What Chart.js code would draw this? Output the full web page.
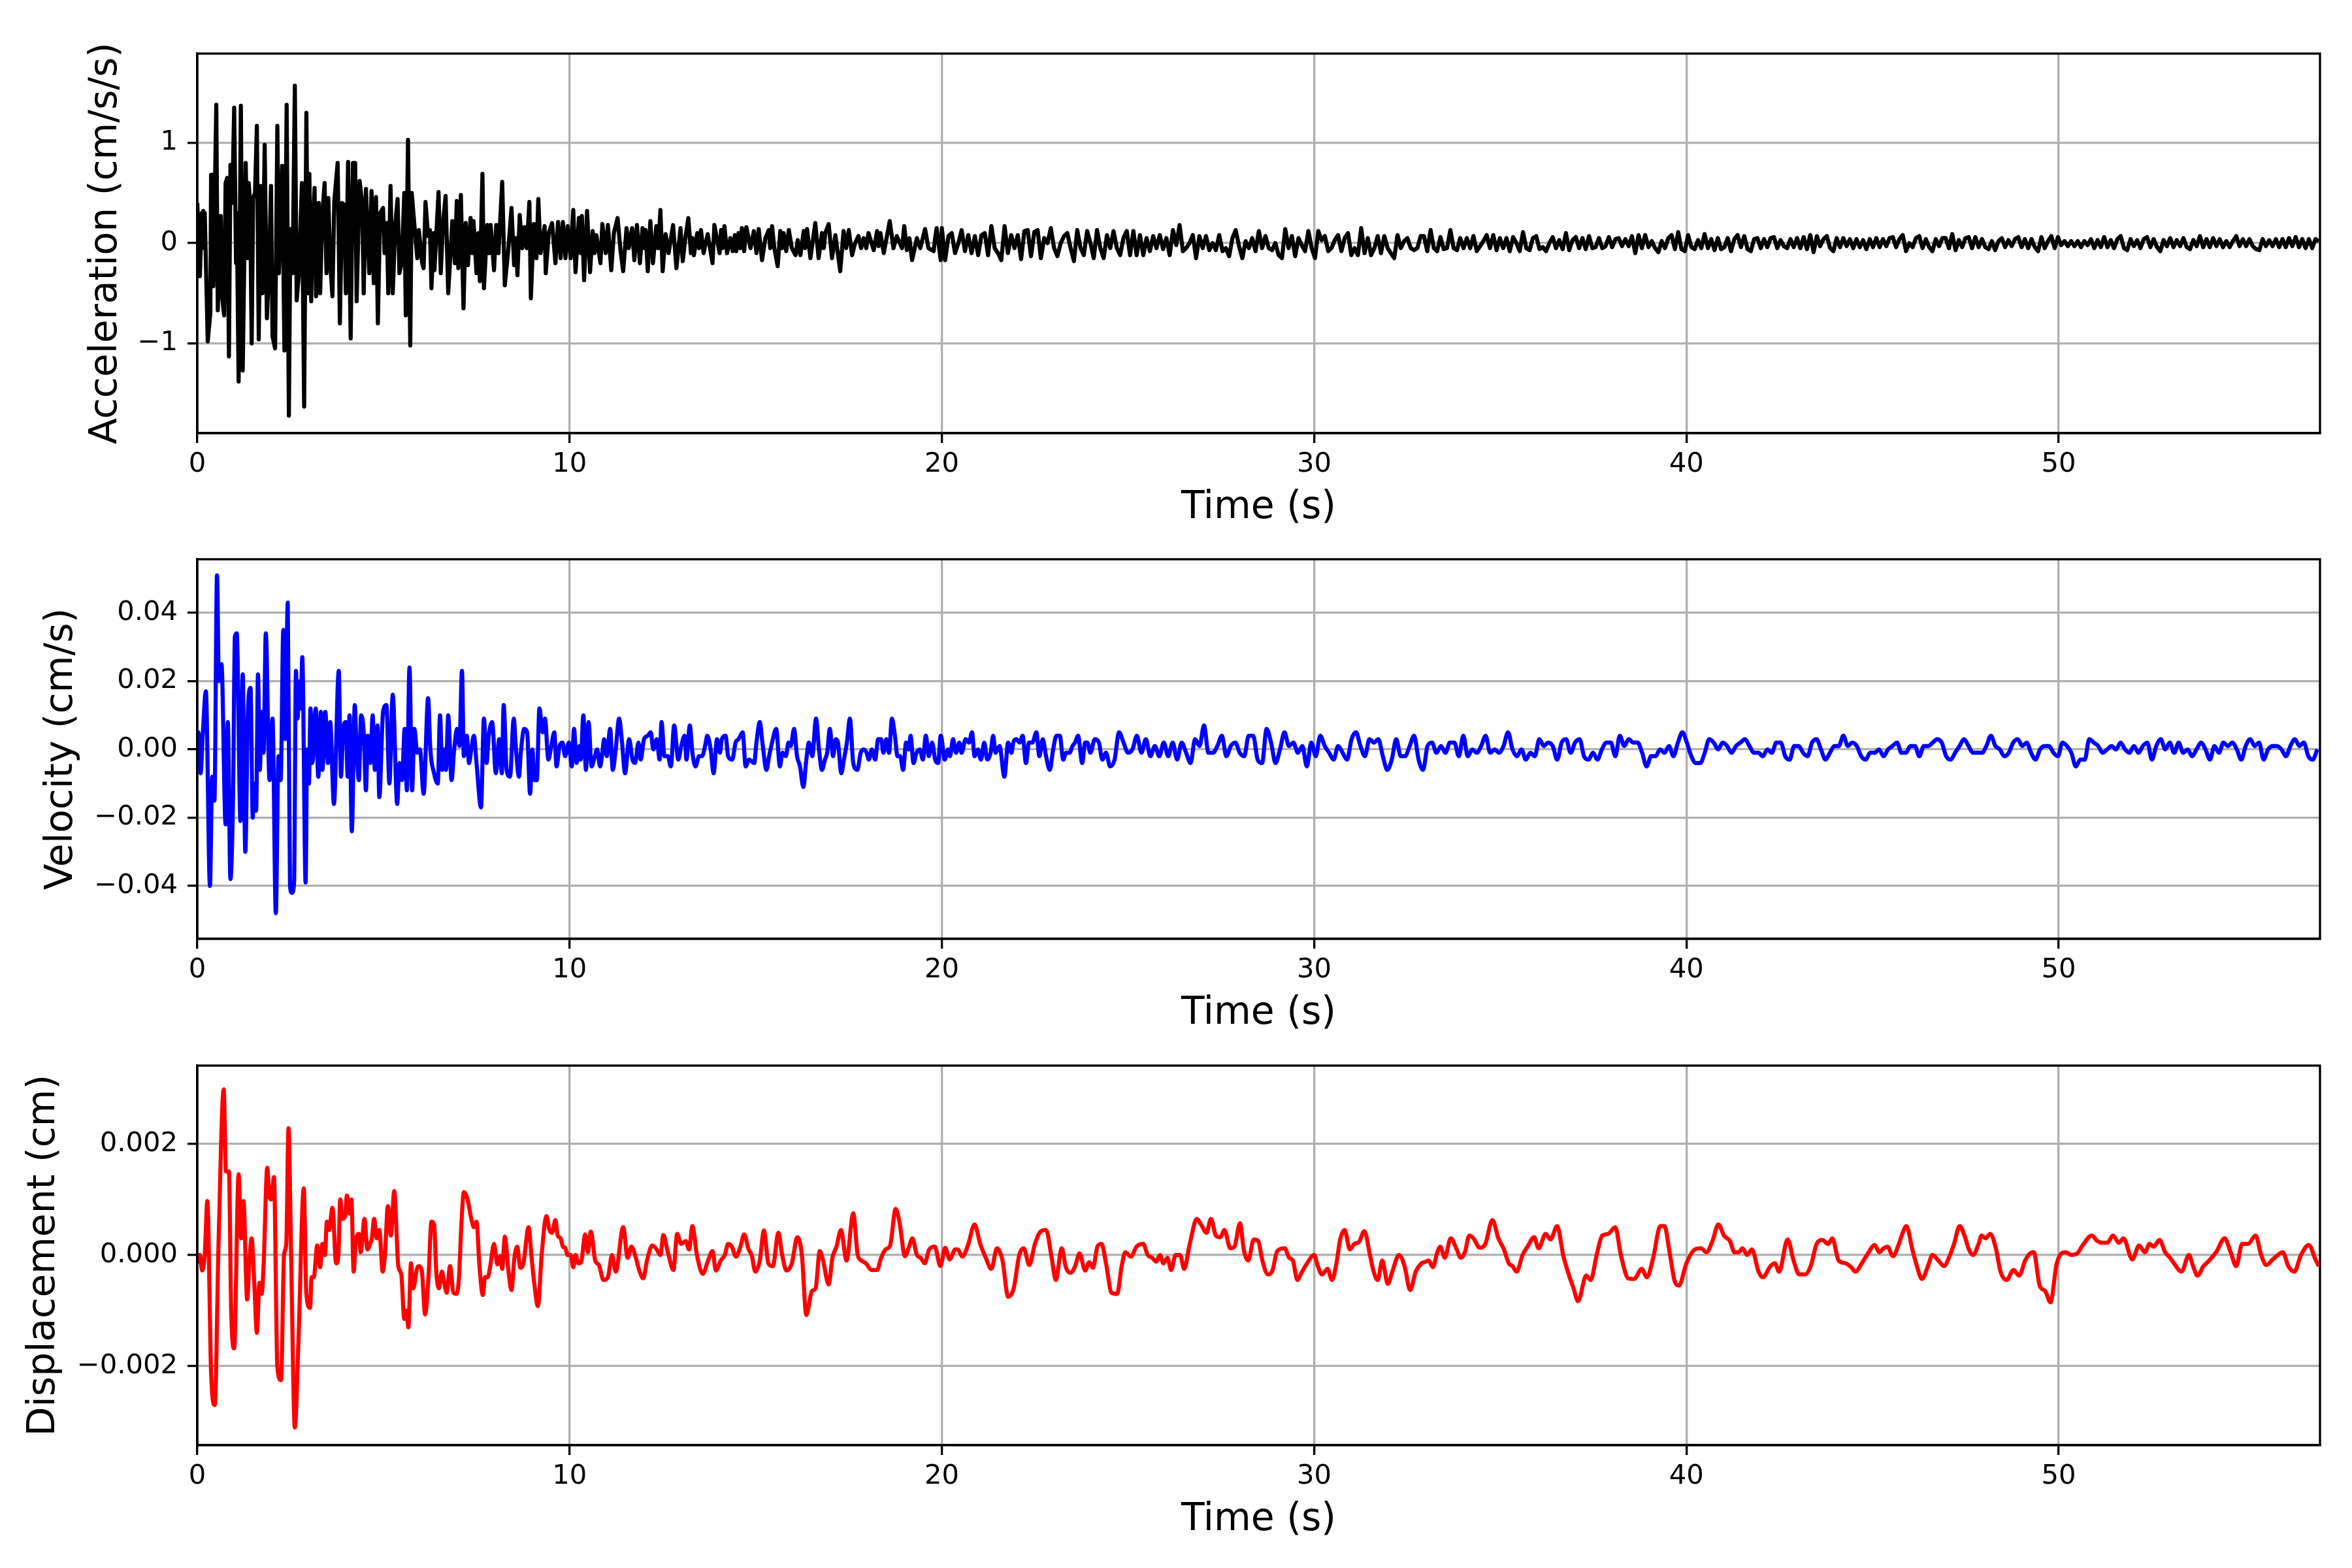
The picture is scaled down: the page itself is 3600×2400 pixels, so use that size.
<!DOCTYPE html>
<html><head><meta charset="utf-8">
<script src="https://cdn.jsdelivr.net/npm/chart.js@4.4.1/dist/chart.umd.min.js"></script>
<style>
html,body{margin:0;padding:0;background:#fff;width:3600px;height:2400px;overflow:hidden;position:relative}
canvas{position:absolute;left:0}
</style></head><body>
<canvas id="c0" width="3600" height="900" style="top:0px;width:3600px;height:900px"></canvas>
<canvas id="c1" width="3600" height="900" style="top:774px;width:3600px;height:900px"></canvas>
<canvas id="c2" width="3600" height="851" style="top:1549px;width:3600px;height:851px"></canvas>
<script>
// ---------------- tick values / labels ----------------
const xTickValues = [0, 10, 20, 30, 40, 50];
const xTickLabels = ['0', '10', '20', '30', '40', '50'];
const accTickValues = [-1, 0, 1];
const accTickLabels = ['\u22121', '0', '1'];
const velTickValues = [-0.04, -0.02, 0, 0.02, 0.04];
const velTickLabels = ['\u22120.04', '\u22120.02', '0.00', '0.02', '0.04'];
const dispTickValues = [-0.002, 0, 0.002];
const dispTickLabels = ['\u22120.002', '0.000', '0.002'];

// ---------------- acceleration (cm/s/s) ----------------
const accTime = [
0.00,0.07,0.12,0.14,0.16,0.18,0.20,0.28,0.35,0.37,
0.41,0.43,0.51,0.55,0.63,0.67,0.72,0.76,0.80,0.85,
0.89,0.94,0.99,1.04,1.06,1.11,1.17,1.22,1.30,1.35,
1.38,1.42,1.46,1.50,1.55,1.60,1.65,1.70,1.75,1.81,
1.87,1.93,1.98,2.02,2.09,2.15,2.19,2.28,2.34,2.40,
2.46,2.50,2.56,2.62,2.67,2.73,2.81,2.87,2.93,2.97,
3.01,3.06,3.09,3.15,3.19,3.26,3.30,3.36,3.42,3.47,
3.52,3.57,3.63,3.68,3.77,3.83,3.89,3.95,3.99,4.05,
4.12,4.18,4.24,4.28,4.36,4.43,4.47,4.53,4.62,4.68,
4.74,4.80,4.85,4.91,4.99,5.03,5.09,5.13,5.19,5.25,
5.32,5.38,5.43,5.49,5.56,5.60,5.66,5.72,5.76,5.85,
5.91,5.95,6.04,6.08,6.13,6.20,6.25,6.29,6.35,6.37,
6.48,6.54,6.60,6.67,6.74,
6.85,6.92,6.97,7.01,7.08,7.15,7.21,7.27,7.34,7.39,
7.42,7.50,7.55,7.59,7.66,7.70,7.79,7.84,7.88,7.97,
8.03,8.09,8.19,8.26,8.35,8.44,8.51,8.55,8.60,8.66,
8.73,8.79,8.85,8.92,8.96,9.04,9.11,9.16,9.22,9.33,
9.36,9.44,9.53,9.62,9.69,9.76,9.82,9.89,9.95,10.03,
10.10,10.16,10.25,10.30,10.33,10.39,10.47,10.55,10.62,10.67,
10.72,10.83,10.88,10.97,11.03,11.12,11.19,11.29,11.37,11.44,
11.53,11.59,11.68,11.74,11.81,11.89,11.96,12.00,12.04,12.10,
12.17,12.24,12.33,12.38,12.44,12.50,12.58,12.66,12.78,12.87,
12.98,13.04,13.11,13.19,13.26,13.30,13.34,13.43,13.48,13.53,
13.60,13.71,13.84,13.89,13.98,14.03,14.07,14.11,14.16,14.23,
14.32,14.38,14.44,14.48,14.54,14.59,14.63,14.69,14.75,14.86,
14.95,15.02,15.08,15.17,15.26,15.35,15.39,15.44,15.50,15.59,
15.66,15.71,15.75,15.82,15.89,15.97,16.07,16.13,16.20,16.29,
16.33,16.38,16.47,16.60,16.69,16.78,16.83,16.87,16.96,17.05,
17.14,17.27,17.36,17.43,17.50,17.59,17.67,17.76,17.83,17.90,
17.97,18.03,18.17,18.26,18.30,18.35,18.44,18.60,18.70,18.79,
18.93,18.99,19.06,19.13,19.20,19.33,19.42,19.55,19.64,19.78,
19.82,19.86,19.97];
const accValue = [
0.40,-0.33,0.30,0.02,0.32,-0.05,0.30,-0.98,-0.70,0.68,
0.68,-0.43,1.38,-0.67,0.27,-0.55,-0.72,0.60,0.65,-1.13,
0.78,0.40,1.35,-0.20,0.30,-1.38,1.37,-1.27,0.80,-0.15,
0.60,0.40,-1.00,0.45,0.50,1.17,-0.96,0.57,-0.50,0.98,
-0.75,-0.20,0.57,-0.93,-1.05,1.17,-0.30,0.77,-1.07,1.38,
-1.72,0.14,-0.30,1.57,-0.57,-0.30,0.60,-1.63,1.30,-0.50,
0.69,-0.58,0.05,0.55,-0.53,0.40,-0.50,0.30,0.60,-0.30,
0.45,-0.20,-0.53,0.42,0.80,-0.80,0.40,0.38,-0.50,0.81,
-0.95,0.80,0.80,-0.58,0.62,0.40,-0.50,0.54,-0.30,0.52,
-0.40,0.46,-0.80,0.30,0.35,-0.10,0.20,-0.50,0.57,-0.50,
0.20,0.44,-0.30,-0.20,0.50,-0.72,1.03,-1.02,0.50,0.10,
-0.15,0.13,-0.20,-0.25,0.41,0.07,0.13,-0.45,0.10,-0.27,
0.51,-0.30,0.20,0.47,-0.50,
0.22,-0.20,0.42,-0.25,0.48,-0.65,0.20,-0.22,0.25,-0.10,
0.22,-0.30,0.10,-0.38,0.69,-0.45,0.18,-0.10,0.18,-0.27,
0.18,-0.10,0.61,-0.42,-0.08,0.35,-0.22,0.05,-0.32,0.28,
-0.05,0.16,-0.05,0.41,-0.55,0.19,-0.15,0.44,-0.10,0.17,
-0.30,0.10,0.20,-0.20,0.21,-0.15,0.21,-0.15,0.17,-0.15,
0.33,-0.29,0.25,-0.10,0.27,-0.37,0.32,-0.29,0.12,-0.10,
0.08,-0.20,0.19,-0.10,0.18,-0.27,0.10,0.25,-0.08,-0.28,
0.15,-0.05,0.15,-0.17,0.18,-0.20,0.15,-0.05,0.13,-0.28,
0.22,-0.20,0.17,-0.05,0.33,-0.28,0.09,-0.10,0.18,-0.25,
0.15,-0.18,0.05,0.25,-0.10,0.05,-0.12,0.10,-0.05,0.13,
-0.10,0.09,-0.20,0.18,0.00,-0.10,0.13,-0.05,0.17,-0.10,
0.05,-0.08,0.08,-0.08,0.10,-0.05,0.15,-0.08,0.16,-0.05,
0.12,-0.10,0.14,-0.17,0.05,0.13,-0.05,0.17,-0.05,-0.23,
0.12,-0.05,0.10,-0.08,0.13,-0.05,-0.12,0.03,-0.12,0.12,
-0.05,0.14,-0.15,0.20,-0.15,0.10,-0.05,0.10,0.19,-0.15,
0.08,-0.28,0.12,-0.05,0.13,-0.12,0.00,0.07,-0.05,0.05,
-0.05,0.10,-0.07,0.12,-0.03,0.10,-0.10,0.22,-0.05,0.07,
-0.05,0.17,-0.07,0.05,-0.17,0.05,-0.05,0.14,-0.05,-0.08,
0.05,0.15,-0.17];
// later record, read at a regular sampling step
const accLateStart = 20.0;
const accLateStep = 0.0887;
const accLateValue = [
0.15,-0.17,0.07,0.10,-0.10,0.00,0.13,-0.08,0.08,-0.10,
0.07,-0.12,0.08,0.10,-0.12,0.17,-0.05,-0.10,-0.17,0.17,
-0.10,0.08,-0.05,0.08,-0.16,0.12,0.13,-0.13,0.11,0.13,
-0.15,0.05,0.00,0.15,-0.05,-0.13,0.00,0.07,0.10,-0.05,
-0.18,0.13,-0.05,-0.12,0.12,0.00,-0.15,0.13,-0.05,-0.15,
0.08,-0.05,0.12,-0.05,-0.12,0.05,0.12,-0.12,0.12,-0.12,
0.08,-0.12,0.05,-0.08,0.07,-0.05,0.08,-0.06,0.05,-0.12,
0.13,-0.02,0.18,-0.08,-0.05,0.00,0.08,-0.15,0.07,-0.05,
0.07,-0.07,0.00,-0.07,0.08,-0.08,-0.05,-0.13,0.05,0.13,
-0.03,-0.15,0.02,-0.05,0.05,-0.08,0.12,-0.05,0.07,-0.05,
-0.07,0.00,-0.12,-0.15,0.14,-0.05,0.07,-0.13,0.05,-0.02,
-0.08,0.12,-0.05,-0.15,0.12,0.03,0.07,-0.08,-0.05,0.03,
0.08,-0.08,0.05,0.10,-0.12,-0.05,-0.12,0.15,-0.10,0.05,
-0.12,-0.05,0.07,-0.10,0.07,-0.05,-0.10,-0.15,0.08,-0.05,
0.02,0.05,-0.05,-0.07,-0.05,0.07,0.07,-0.08,0.13,-0.05,
-0.08,0.06,-0.06,-0.05,0.13,-0.05,-0.07,0.05,-0.05,0.05,
-0.05,0.07,-0.08,-0.03,0.02,0.08,-0.05,0.08,-0.07,0.05,
-0.05,0.05,-0.08,0.06,0.00,-0.08,0.11,-0.05,-0.07,0.05,
0.07,-0.06,-0.04,-0.08,0.00,0.06,-0.05,0.03,-0.06,0.10,
-0.07,0.03,0.06,-0.05,0.05,-0.06,0.07,-0.05,-0.04,0.05,
-0.05,-0.03,0.06,-0.04,0.04,
0.05,-0.03,0.04,-0.03,0.07,-0.10,0.08,-0.05,0.08,-0.04,
0.02,-0.05,-0.09,0.02,-0.05,0.05,0.08,-0.06,0.11,-0.06,
-0.08,0.08,-0.04,-0.06,0.03,-0.05,0.09,-0.05,0.04,-0.07,
0.05,-0.06,-0.04,0.05,-0.08,0.04,0.08,-0.04,0.07,-0.06,
-0.08,0.04,0.05,-0.05,0.04,-0.04,0.05,0.06,-0.05,0.03,
-0.03,-0.05,0.04,-0.04,0.05,-0.05,0.06,-0.06,0.08,-0.09,
0.07,-0.03,0.04,0.07,-0.05,-0.08,0.05,-0.04,0.05,-0.03,
0.04,-0.05,0.04,-0.04,0.03,-0.06,0.04,-0.04,0.05,-0.04,
0.04,-0.03,0.05,0.06,-0.04,0.04,0.08,-0.08,0.00,-0.04,
0.05,0.07,-0.05,0.04,-0.04,-0.08,0.04,-0.03,0.05,0.05,
-0.05,0.09,-0.07,0.03,-0.04,0.05,0.06,-0.05,0.06,-0.04,
0.04,-0.04,-0.06,0.02,-0.07,0.02,0.05,-0.04,0.03,-0.03,
0.04,0.06,-0.04,0.04,-0.05,0.04,-0.04,-0.08,0.06,-0.05,
0.02,0.07,-0.05,0.06,-0.02,0.02,-0.03,0.02,-0.03,0.02,
-0.04,0.02,-0.02,0.04,-0.05,0.03,-0.04,0.06,-0.04,0.03,
-0.05,0.04,0.07,-0.05,-0.07,0.04,-0.03,0.03,-0.05,0.04,
0.06,-0.04,0.04,-0.04,-0.08,0.03,-0.03,0.05,-0.04,0.03,
-0.03,0.05,-0.04,-0.06,0.03,-0.03,0.07,-0.04,0.04,-0.04,
0.05,-0.03,0.04,-0.04,0.02,-0.04,0.02,0.07,-0.03,0.04,
-0.03,0.04,-0.03,-0.06,-0.07,0.04,-0.03,0.03,-0.03,0.04,
-0.04,0.04,-0.04,0.05,-0.03,0.06,-0.04,0.04,-0.05,0.04,
-0.05,0.04,0.02];

// ---------------- velocity (cm/s) ----------------
const velTime = [
0.00,0.03,0.09,0.15,0.23,0.34,0.40,0.46,0.53,0.58,
0.65,0.76,0.82,0.89,0.96,1.01,1.06,1.16,1.22,1.29,
1.36,1.43,1.49,1.52,1.58,1.63,1.68,1.73,1.78,1.84,
1.94,2.02,2.11,2.18,2.24,2.31,2.36,2.43,2.49,2.54,
2.60,2.65,2.69,2.75,2.78,2.82,2.91,2.95,3.00,3.04,
3.09,3.18,3.25,3.32,3.36,3.44,3.51,3.57,3.67,3.80,
3.86,3.92,3.99,4.04,4.09,4.15,4.23,4.28,4.34,4.40,
4.47,4.53,4.58,4.65,4.71,4.77,4.84,4.89,4.99,5.08,
5.16,5.25,5.37,5.43,5.50,5.57,5.63,5.70,5.77,5.83,
5.91,5.98,6.08,6.20,6.26,6.36,6.46,6.52,6.58,6.64,
6.68,6.74,6.83,6.90,6.98,7.04,7.11,7.16,7.24,7.30,
7.36,7.43,7.50,
7.62,7.70,7.77,7.83,7.92,8.02,8.11,8.18,8.23,8.31,
8.40,8.50,8.56,8.64,8.69,8.78,8.86,8.94,9.00,9.06,
9.12,9.19,9.28,9.34,9.43,9.51,9.59,9.65,9.73,9.81,
9.88,9.98,10.06,10.12,10.19,10.26,10.30,10.37,10.44,10.51,
10.59,10.68,10.74,10.82,10.87,10.93,11.00,11.09,11.16,11.24,
11.33,11.41,11.49,11.60,11.69,11.76,11.85,11.91,12.00,12.10,
12.18,12.25,12.34,12.42,12.47,12.55,12.64,12.72,12.81,12.92,
13.00,13.09,13.14,13.23,13.30,13.38,13.48,13.56,13.64,13.70,
13.79,13.87,13.96,14.04,14.09,14.19,14.26,14.37,14.46,14.54,
14.65,14.73,14.82,14.96,15.02,15.11,15.18,15.29,15.36,15.44,
15.55,15.65,15.72,15.81,15.88,15.94,16.03,16.11,16.19,16.28,
16.36,16.43,16.52,16.62,16.70,16.78,16.86,16.92,16.99,17.08,
17.15,17.21,17.30,17.37,17.45,17.53,17.62,17.73,17.82,17.90,
17.98,18.04,18.12,18.21,18.29,18.37,18.43,18.51,18.58,18.66,
18.74,18.81,18.88,18.96,19.04,19.11,19.16,19.24,19.32,19.41,
19.49,19.57,19.65,19.74,19.82,19.90,19.97,20.08,20.17,20.22,
20.30,20.38,20.47,20.53,20.64,20.73,20.81,20.88,20.97,21.05,
21.14,21.22,21.31,21.38,21.44,21.55,21.68,21.78,21.87,21.92,
22.00,22.09,22.17,22.26,22.34,22.43,22.54,22.62,22.71,22.80,
22.90,22.99,23.08,23.17,23.26,23.34,23.43,23.51,23.58,23.66,
23.77,23.85,23.91,23.99,24.11,24.22,24.31,24.41];
const velValue = [
0.005,0.005,-0.007,0.005,0.017,-0.040,-0.008,-0.015,0.051,0.020,
0.025,-0.022,0.008,-0.038,-0.014,0.033,0.034,-0.021,0.022,-0.030,
0.011,0.018,-0.020,-0.010,-0.018,0.022,-0.006,0.011,-0.001,0.034,
-0.009,0.009,-0.048,-0.002,-0.009,0.035,0.003,0.043,-0.040,-0.042,
-0.039,0.023,0.009,0.020,0.012,0.027,-0.039,0.000,-0.010,0.012,
-0.004,0.012,-0.008,0.011,-0.006,0.011,-0.004,0.008,-0.016,0.023,
-0.008,0.006,0.008,-0.008,0.010,-0.024,0.013,0.000,-0.009,0.010,
0.005,-0.012,0.004,-0.004,0.010,-0.006,0.007,-0.014,0.011,0.013,
-0.010,0.016,-0.016,-0.004,-0.009,0.006,-0.012,0.024,-0.012,0.006,
-0.001,0.000,-0.013,0.015,0.000,-0.007,-0.010,0.010,-0.006,0.000,
-0.006,0.010,-0.009,0.000,0.006,0.001,0.023,-0.002,0.004,-0.004,
0.000,0.004,-0.004,
-0.017,0.009,-0.004,0.004,0.008,-0.007,0.003,-0.007,0.013,-0.006,
-0.008,0.009,0.000,-0.008,-0.001,0.006,0.005,-0.013,0.000,-0.009,
-0.009,0.012,0.005,0.009,-0.003,0.001,0.005,-0.005,0.001,0.002,
-0.002,0.002,-0.005,0.006,-0.004,0.001,-0.003,0.010,-0.006,0.008,
-0.005,-0.002,0.000,-0.005,-0.002,0.003,-0.002,0.006,-0.006,0.000,
0.009,0.002,-0.007,0.003,-0.003,-0.004,0.002,-0.003,0.003,0.004,
0.005,0.000,0.003,-0.003,0.008,-0.002,-0.002,-0.005,0.007,-0.003,
0.001,0.004,-0.003,0.007,-0.001,-0.005,-0.002,-0.002,0.001,0.004,
0.000,-0.007,0.003,-0.001,0.003,0.004,-0.002,-0.003,0.002,0.003,
0.005,-0.005,-0.003,-0.004,0.002,0.008,0.002,-0.006,-0.002,0.002,
0.006,-0.005,-0.001,-0.002,0.002,0.001,0.006,-0.002,-0.005,-0.011,
-0.003,0.002,-0.002,0.009,0.000,-0.006,-0.003,-0.001,0.006,-0.002,
0.003,0.002,-0.007,-0.003,0.002,0.009,-0.004,-0.006,-0.001,0.000,
-0.001,-0.003,0.000,-0.003,0.003,0.003,-0.001,0.003,-0.001,0.009,
0.004,-0.002,-0.002,-0.006,0.002,0.000,0.004,-0.004,-0.001,0.000,
-0.003,0.004,-0.002,0.002,-0.003,-0.004,0.004,-0.003,0.000,-0.002,
0.003,-0.001,0.002,-0.001,0.003,0.002,0.005,-0.002,0.000,-0.003,
0.002,-0.003,-0.001,0.004,-0.001,0.001,-0.008,0.002,-0.001,0.002,
0.003,0.002,0.004,-0.004,0.002,0.002,0.005,-0.002,0.003,-0.002,
-0.006,0.000,0.004,0.004,-0.003,-0.001,-0.001,0.001,0.002,0.004,
-0.004,0.002,0.002,-0.001,0.003,0.002,-0.003,-0.001];
const velLateStart = 24.52;
const velLateStep = 0.1201;
const velLateValue = [
-0.005,-0.003,0.005,0.002,-0.001,0.000,0.004,-0.001,0.003,-0.002,
0.001,-0.002,0.002,-0.002,0.002,-0.003,0.002,-0.001,-0.004,0.003,
0.001,0.007,-0.001,-0.001,0.001,0.004,-0.002,0.001,0.002,-0.001,
-0.002,0.004,0.004,-0.003,-0.004,0.006,0.002,-0.004,0.000,0.005,
0.001,0.002,-0.001,0.001,-0.005,0.002,-0.002,0.004,0.001,-0.001,
-0.003,0.001,-0.001,-0.003,0.003,0.005,0.001,-0.002,0.003,0.002,
0.003,-0.002,-0.006,-0.003,0.003,-0.002,-0.002,0.001,0.004,-0.003,
-0.006,0.001,0.002,-0.001,0.001,-0.001,0.002,0.002,-0.002,0.004,
-0.002,0.000,-0.001,0.001,0.004,-0.001,0.000,-0.001,0.001,0.005,
0.000,-0.002,0.000,-0.003,-0.001,-0.002,0.003,0.001,0.002,0.001,
-0.003,0.002,0.003,-0.001,0.002,0.003,-0.002,-0.003,-0.001,-0.003,
0.000,0.002,0.002,-0.002,0.004,0.001,0.003,0.002,0.002,-0.001,
-0.005,-0.002,-0.002,0.000,-0.001,0.001,-0.002,0.002,0.005,0.002,
-0.002,-0.004,-0.004,-0.001,0.003,0.002,0.000,0.002,0.001,-0.001,
0.001,0.002,0.003,0.001,-0.001,-0.001,-0.002,0.000,-0.001,0.002,
0.002,-0.002,-0.003,0.001,0.001,-0.001,-0.002,0.002,0.003,0.000,
-0.003,-0.001,0.001,0.001,0.004,0.001,0.002,0.001,-0.002,-0.003,
-0.001,-0.001,0.000,-0.002,0.000,0.001,0.002,-0.001,-0.001,0.001,
0.001,-0.002,0.001,0.001,0.002,0.003,0.002,-0.002,-0.003,-0.001,
0.001,0.003,0.001,-0.001,-0.001,-0.001,0.001,0.004,0.001,0.000,
-0.002,-0.001,0.002,0.003,0.001,0.002,-0.001,-0.003,0.000,0.001,
0.001,-0.001,-0.002,0.002,0.001,-0.001,-0.005,-0.003,-0.003,0.003,
0.002,0.001,-0.001,0.000,0.001,0.000,0.002,0.000,-0.001,0.001,
-0.001,0.001,0.002,-0.003,0.001,0.003,0.000,0.002,-0.001,0.002,
-0.001,0.000,-0.002,0.000,0.002,0.000,-0.003,0.001,-0.001,0.002,
0.001,0.002,0.000,-0.003,0.001,0.003,0.001,0.002,-0.003,0.000,
0.001,0.001,0.000,-0.002,0.001,0.003,0.001,0.002,-0.002,-0.003,
0.000];

// ---------------- displacement (cm) ----------------
const dispTime = [
0.00,0.07,0.13,0.20,0.27,0.37,0.47,0.57,0.71,0.77,
0.85,0.91,0.99,1.11,1.18,1.24,1.34,1.40,1.46,1.53,
1.60,1.67,1.73,1.78,1.88,1.93,1.98,2.06,2.15,2.25,
2.33,2.39,2.45,2.52,2.62,2.72,2.86,2.93,3.03,3.07,
3.13,3.22,3.30,3.36,3.43,3.48,3.54,3.63,3.73,3.79,
3.84,3.90,3.97,4.02,4.08,4.14,4.20,4.26,4.34,4.39,
4.49,4.57,4.64,4.69,4.75,4.82,4.89,4.98,5.04,5.12,
5.20,5.29,5.40,5.48,5.56,5.62,5.67,5.74,5.80,5.90,
5.95,6.03,6.12,6.21,6.29,6.36,6.42,6.49,6.57,6.62,
6.70,6.79,6.88,6.96,7.03,7.09,7.16,7.26,7.36,7.43,
7.50,7.58,7.67,7.73,7.80,7.87,7.97,8.06,8.14,8.19,
8.26,8.36,8.44,8.51,8.59,8.68,8.76,8.90,8.98,9.05,
9.15,9.25,9.38,9.46,9.53,9.62,9.68,9.76,9.82,9.88,
9.95,10.03,10.10,
10.16,10.24,10.31,10.42,10.49,10.57,10.69,10.79,10.91,11.03,
11.14,11.24,11.44,11.56,11.66,11.78,11.86,11.98,12.08,12.22,
12.34,12.44,12.52,12.64,12.79,12.89,13.00,13.12,13.21,13.30,
13.42,13.58,13.72,13.84,13.93,14.06,14.17,14.26,14.36,14.47,
14.59,14.69,14.81,14.89,14.99,15.11,15.22,15.34,15.46,15.61,
15.71,15.83,15.97,16.12,16.24,16.36,16.51,16.61,16.72,16.81,
16.96,17.06,17.17,17.29,17.44,17.62,17.74,17.84,17.96,18.11,
18.26,18.37,18.49,18.61,18.76,18.86,19.01,19.12,19.21,19.33,
19.43,19.54,19.66,19.81,19.96,20.09,20.21,20.36,20.43,20.55,
20.70,20.88,21.03,21.18,21.33,21.48,21.63,21.78,21.93,22.08,
22.20,22.35,22.50,22.65,22.80,22.95,23.06,23.22,23.33,23.46,
23.58,23.70,23.85,23.96,24.06,24.18,24.29,24.41,24.56,24.71,
24.83,24.93,25.08,25.23,25.41,25.53,25.65,25.76,25.86,25.95,
26.06,26.16,26.28,26.40,26.51,26.66,26.85,26.96,27.11,27.23,
27.36,27.48,27.59,27.75,27.86,28.01,28.11,28.23,28.38,28.50,
28.61,28.76,28.88,29.01,29.21,29.33,29.43,29.55,29.66,29.81,
30.00,30.10,30.21,30.36,30.48,30.60,30.70,30.82,30.96,31.08,
31.20,31.35,31.50,31.60,31.71,31.83,31.98,32.10,32.28,32.43,
32.58,32.73,
32.89,33.00,33.08,33.19,33.31,33.39,33.51,33.67,33.83,33.94,
34.05,34.17,34.28,34.45,34.60,34.79,34.95,35.10,35.23,35.33,
35.44,35.60,35.75,35.91,36.03,36.22,36.35,36.53,36.69,36.84,
36.97,37.09,37.31,37.43,37.59,37.74,37.90,38.09,38.24,38.44,
38.60,38.80,38.94,39.11,39.30,39.41,39.56,39.69,39.80,40.00,
40.23,40.39,40.54,40.70,40.86,41.01,41.17,41.29,41.40,41.51,
41.63,41.76,41.94,42.05,42.26,42.38,42.49,42.72,42.88,43.03,
43.19,43.34,43.50,43.65,43.81,43.92,44.09,44.28,44.43,44.54,
44.71,44.87,45.06,45.18,45.30,45.40,45.55,45.71,45.80,45.91,
46.07,46.17,46.33,46.49,46.61,46.77,46.92,47.08,47.19,47.34,
47.47,47.59,47.70,47.85,47.93,48.04,48.16,48.32,48.44,48.60,
48.79,48.94,49.10,49.22,49.33,49.49,49.64,49.78,49.95,50.19,
50.34,50.50,50.65,50.89,51.04,51.20,51.31,51.46,51.62,51.74,
51.98,52.16,52.32,52.44,52.55,52.71,52.86,52.99,53.10,53.30,
53.50,53.61,53.73,53.89,54.00,54.23,54.46,54.62,54.77,54.93,
55.09,55.29,55.44,55.58,55.75,55.89,56.02,56.17,56.33,56.51,
56.72,56.91,56.99];
const dispValue = [
-0.15e-3,0.00e-3,-0.28e-3,0.00e-3,0.97e-3,-2.10e-3,-2.70e-3,0.20e-3,2.98e-3,1.50e-3,
1.50e-3,-1.00e-3,-1.68e-3,1.45e-3,0.30e-3,0.97e-3,-0.80e-3,-0.10e-3,0.30e-3,-0.50e-3,
-1.40e-3,-0.50e-3,-0.70e-3,-0.20e-3,1.57e-3,1.10e-3,1.00e-3,1.40e-3,-2.00e-3,-2.25e-3,
0.00e-3,0.20e-3,2.28e-3,0.00e-3,-3.10e-3,-1.50e-3,1.20e-3,-0.70e-3,-0.95e-3,-0.40e-3,
-0.40e-3,0.17e-3,-0.22e-3,0.20e-3,0.00e-3,0.60e-3,0.45e-3,0.85e-3,-0.15e-3,0.00e-3,
1.00e-3,0.65e-3,0.70e-3,1.07e-3,0.75e-3,1.00e-3,-0.30e-3,0.25e-3,0.38e-3,0.05e-3,
0.65e-3,0.10e-3,0.20e-3,0.30e-3,0.65e-3,0.30e-3,0.45e-3,-0.30e-3,0.00e-3,0.88e-3,
0.35e-3,1.15e-3,-0.20e-3,-0.35e-3,-1.15e-3,-1.00e-3,-1.30e-3,-0.15e-3,-0.60e-3,-0.25e-3,
-0.20e-3,-0.28e-3,-1.07e-3,-0.40e-3,0.60e-3,0.55e-3,-0.30e-3,-0.60e-3,-0.30e-3,-0.45e-3,
-0.68e-3,-0.20e-3,-0.68e-3,-0.70e-3,-0.40e-3,0.50e-3,1.13e-3,1.00e-3,0.65e-3,0.50e-3,
0.60e-3,-0.20e-3,-0.72e-3,-0.40e-3,-0.40e-3,-0.20e-3,0.20e-3,-0.17e-3,-0.02e-3,-0.25e-3,
0.33e-3,-0.30e-3,-0.63e-3,-0.10e-3,0.15e-3,-0.23e-3,-0.15e-3,0.50e-3,-0.05e-3,-0.50e-3,
-0.92e-3,0.00e-3,0.70e-3,0.45e-3,0.40e-3,0.63e-3,0.35e-3,0.30e-3,0.15e-3,0.13e-3,
0.00e-3,0.00e-3,-0.22e-3,
0.00e-3,-0.15e-3,-0.13e-3,0.37e-3,0.05e-3,0.42e-3,-0.10e-3,-0.18e-3,-0.45e-3,-0.40e-3,
0.00e-3,-0.30e-3,0.50e-3,-0.05e-3,0.15e-3,-0.05e-3,-0.25e-3,-0.42e-3,-0.10e-3,0.17e-3,
0.10e-3,0.00e-3,0.36e-3,0.05e-3,-0.27e-3,0.38e-3,0.20e-3,0.25e-3,0.10e-3,0.52e-3,
0.00e-3,-0.34e-3,-0.10e-3,0.07e-3,-0.28e-3,-0.10e-3,0.00e-3,0.20e-3,0.15e-3,-0.03e-3,
0.15e-3,0.37e-3,0.10e-3,0.00e-3,-0.30e-3,-0.10e-3,0.44e-3,-0.15e-3,-0.20e-3,0.40e-3,
0.00e-3,-0.28e-3,-0.15e-3,0.32e-3,0.00e-3,-1.08e-3,-0.65e-3,-0.60e-3,0.07e-3,-0.10e-3,
-0.53e-3,-0.05e-3,0.15e-3,0.45e-3,-0.10e-3,0.75e-3,0.00e-3,-0.10e-3,-0.15e-3,-0.27e-3,
-0.27e-3,-0.05e-3,0.10e-3,0.17e-3,0.83e-3,0.60e-3,-0.02e-3,0.15e-3,0.30e-3,0.00e-3,
-0.05e-3,-0.15e-3,0.10e-3,0.15e-3,-0.20e-3,0.13e-3,-0.08e-3,0.10e-3,0.10e-3,-0.03e-3,
0.17e-3,0.55e-3,0.20e-3,-0.05e-3,-0.25e-3,0.12e-3,-0.10e-3,-0.75e-3,-0.60e-3,0.00e-3,
0.12e-3,-0.18e-3,0.20e-3,0.42e-3,0.45e-3,-0.05e-3,-0.45e-3,0.12e-3,-0.22e-3,-0.32e-3,
-0.20e-3,0.03e-3,-0.28e-3,-0.13e-3,-0.23e-3,0.15e-3,0.20e-3,-0.15e-3,-0.68e-3,-0.70e-3,
-0.20e-3,0.05e-3,-0.03e-3,0.15e-3,0.20e-3,0.00e-3,-0.05e-3,-0.12e-3,0.00e-3,-0.15e-3,
-0.05e-3,-0.27e-3,0.00e-3,0.00e-3,-0.25e-3,0.20e-3,0.65e-3,0.55e-3,0.40e-3,0.65e-3,
0.35e-3,0.32e-3,0.45e-3,0.12e-3,0.15e-3,0.57e-3,0.10e-3,-0.10e-3,0.28e-3,0.25e-3,
-0.10e-3,-0.35e-3,-0.28e-3,0.07e-3,0.12e-3,-0.05e-3,-0.10e-3,-0.45e-3,-0.32e-3,-0.15e-3,
0.00e-3,-0.20e-3,-0.35e-3,-0.25e-3,-0.45e-3,-0.15e-3,0.28e-3,0.45e-3,0.10e-3,0.20e-3,
0.23e-3,0.43e-3,0.00e-3,-0.30e-3,-0.45e-3,-0.10e-3,-0.52e-3,-0.30e-3,0.00e-3,-0.20e-3,
-0.63e-3,-0.30e-3,
-0.15e-3,-0.12e-3,-0.10e-3,-0.22e-3,0.05e-3,0.15e-3,-0.05e-3,0.30e-3,0.10e-3,-0.05e-3,
0.05e-3,0.35e-3,0.30e-3,0.13e-3,0.20e-3,0.63e-3,0.30e-3,0.10e-3,-0.15e-3,-0.20e-3,
-0.30e-3,0.00e-3,0.17e-3,0.32e-3,0.12e-3,0.38e-3,0.28e-3,0.52e-3,0.00e-3,-0.35e-3,
-0.60e-3,-0.83e-3,-0.37e-3,-0.45e-3,0.00e-3,0.35e-3,0.38e-3,0.50e-3,0.00e-3,-0.42e-3,
-0.43e-3,-0.25e-3,-0.40e-3,-0.05e-3,0.52e-3,0.52e-3,0.00e-3,-0.48e-3,-0.55e-3,-0.15e-3,
0.10e-3,0.12e-3,0.05e-3,0.25e-3,0.55e-3,0.35e-3,0.25e-3,0.05e-3,0.05e-3,0.12e-3,
0.00e-3,0.10e-3,-0.30e-3,-0.40e-3,-0.20e-3,-0.15e-3,-0.30e-3,0.28e-3,-0.10e-3,-0.35e-3,
-0.35e-3,-0.20e-3,0.20e-3,0.27e-3,0.20e-3,0.30e-3,-0.10e-3,-0.15e-3,-0.22e-3,-0.30e-3,
-0.15e-3,0.02e-3,0.18e-3,0.05e-3,0.12e-3,0.15e-3,-0.02e-3,0.20e-3,0.38e-3,0.52e-3,
0.10e-3,-0.15e-3,-0.43e-3,-0.20e-3,0.00e-3,-0.10e-3,-0.20e-3,0.00e-3,0.20e-3,0.52e-3,
0.35e-3,0.10e-3,0.00e-3,0.20e-3,0.35e-3,0.30e-3,0.38e-3,0.10e-3,-0.30e-3,-0.45e-3,
-0.27e-3,-0.37e-3,-0.10e-3,0.02e-3,0.05e-3,-0.55e-3,-0.65e-3,-0.85e-3,-0.15e-3,0.05e-3,
0.00e-3,0.03e-3,0.18e-3,0.35e-3,0.25e-3,0.22e-3,0.22e-3,0.35e-3,0.22e-3,0.30e-3,
-0.08e-3,0.17e-3,0.05e-3,0.20e-3,0.15e-3,0.27e-3,0.05e-3,-0.05e-3,-0.15e-3,-0.30e-3,
0.00e-3,-0.20e-3,-0.37e-3,-0.20e-3,-0.13e-3,0.05e-3,0.30e-3,0.05e-3,-0.20e-3,0.20e-3,
0.20e-3,0.35e-3,0.00e-3,-0.18e-3,-0.08e-3,0.00e-3,0.05e-3,-0.20e-3,-0.30e-3,0.00e-3,
0.18e-3,-0.10e-3,-0.20e-3];

// ---------------- build point lists ----------------
function pairs(times, values) { return times.map((t, i) => ({ x: t, y: values[i] })); }
function regular(start, step, values) { return values.map((v, i) => ({ x: start + i * step, y: v })); }

const accPoints = pairs(accTime, accValue).concat(regular(accLateStart, accLateStep, accLateValue));
const velPoints = pairs(velTime, velValue).concat(regular(velLateStart, velLateStep, velLateValue));
const dispPoints = pairs(dispTime, dispValue);

// ---------------- layout constants (pixels) ----------------
const TOP_PAD = 82, AREA_H = 581, Y_AXIS_W = 302, RIGHT_PAD = 49;
const TICK_FONT = 41.7, LABEL_FONT = 58.3, LW = 3.33;

Chart.defaults.font.family = "'DejaVu Sans', sans-serif";
Chart.defaults.color = '#000';

const framePlugin = {
  id: 'frame',
  afterDatasetsDraw(chart) {
    const a = chart.chartArea, ctx = chart.ctx;
    ctx.save();
    ctx.strokeStyle = '#000';
    ctx.lineWidth = LW;
    ctx.strokeRect(a.left, a.top, a.right - a.left, a.bottom - a.top);
    ctx.restore();
  }
};

function panel(id, H, points, color, smooth, yMin, yMax, yTicks, yLabels, yTitle, yTitlePad) {
  const xAxisH = H - TOP_PAD - AREA_H;
  const gridOpts = { color: '#b0b0b0', lineWidth: LW, drawTicks: true, tickLength: 15, tickColor: '#000', tickWidth: LW };
  new Chart(document.getElementById(id), {
    type: 'line',
    data: { datasets: [{
      data: points, borderColor: color, borderWidth: 6.25, pointRadius: 0, fill: false,
      tension: 0, cubicInterpolationMode: smooth ? 'monotone' : 'default',
      borderJoinStyle: 'round', borderCapStyle: 'butt', clip: 0
    }] },
    options: {
      responsive: false, animation: false, devicePixelRatio: 1, events: [],
      layout: { padding: { left: 0, right: RIGHT_PAD, top: TOP_PAD, bottom: 0 } },
      plugins: { legend: { display: false }, tooltip: { enabled: false } },
      scales: {
        x: {
          type: 'linear', position: 'bottom', min: 0, max: 57.02,
          afterBuildTicks: s => { s.ticks = xTickValues.map(v => ({ value: v })); },
          afterFit: s => { s.height = xAxisH; },
          ticks: { autoSkip: false, maxRotation: 0, padding: 8, color: '#000', font: { size: TICK_FONT },
                   callback: (v, i) => xTickLabels[i] },
          grid: gridOpts,
          border: { display: true, color: '#000', width: LW },
          title: { display: true, text: 'Time (s)', color: '#000', font: { size: LABEL_FONT },
                   padding: { top: 0, bottom: H - 778 - LABEL_FONT * 0.6 } }
        },
        y: {
          type: 'linear', position: 'left', min: yMin, max: yMax,
          afterBuildTicks: s => { s.ticks = yTicks.map(v => ({ value: v })); },
          afterFit: s => { s.width = Y_AXIS_W; },
          ticks: { autoSkip: false, padding: 15, color: '#000', font: { size: TICK_FONT },
                   callback: (v, i) => yLabels[i] },
          grid: gridOpts,
          border: { display: true, color: '#000', width: LW },
          title: { display: true, text: yTitle, color: '#000', font: { size: LABEL_FONT },
                   padding: { top: yTitlePad, bottom: 0 } }
        }
      }
    },
    plugins: [framePlugin]
  });
}

panel('c0', 900, accPoints, '#000000', false, -1.895, 1.89, accTickValues, accTickLabels, 'Acceleration (cm/s/s)', 128);
panel('c1', 900, velPoints, '#0000ff', true, -0.0555, 0.0557, velTickValues, velTickLabels, 'Velocity (cm/s)', 60);
panel('c2', 851, dispPoints, '#ff0000', true, -0.00342, 0.003406, dispTickValues, dispTickLabels, 'Displacement (cm)', 33);
</script>
</body></html>
